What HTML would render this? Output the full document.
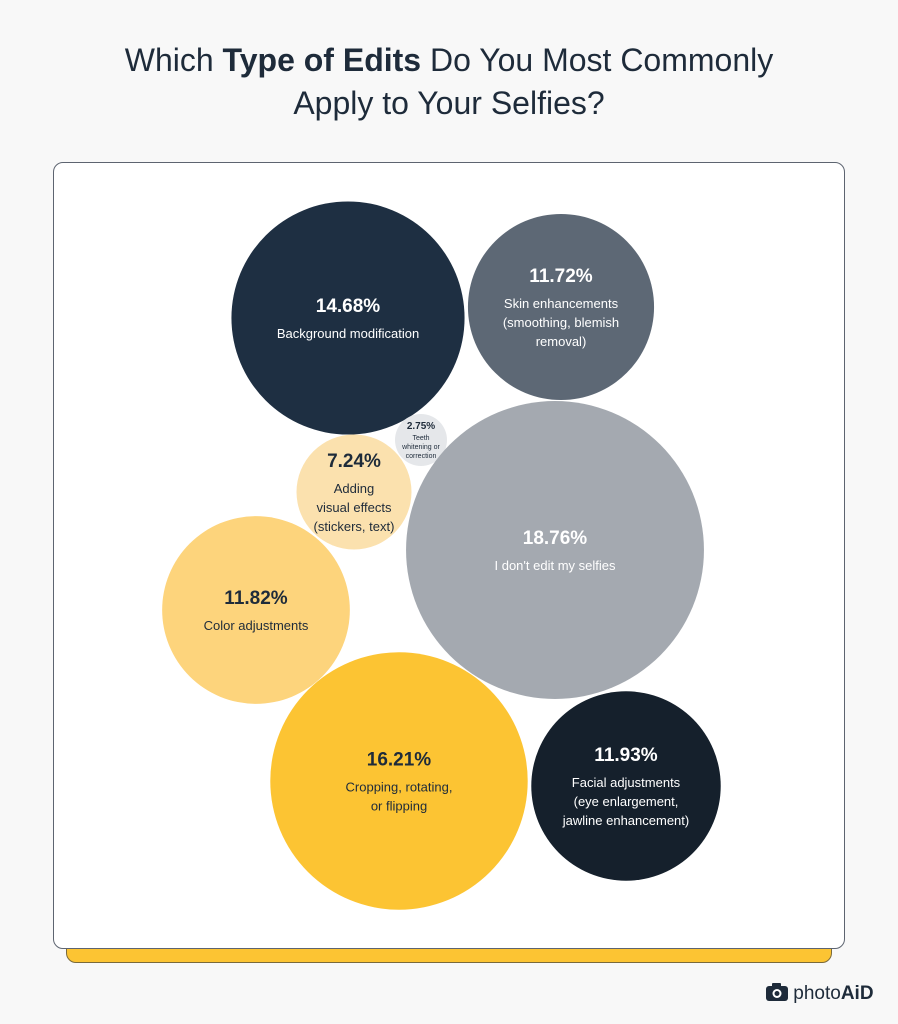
<!DOCTYPE html>
<html><head><meta charset="utf-8"><style>
body{margin:0;width:898px;height:1024px;background:#f8f8f8;font-family:"Liberation Sans",sans-serif;position:relative;overflow:hidden}
h1{position:absolute;top:39px;left:0;width:898px;margin:0;text-align:center;font-weight:normal;font-size:32px;line-height:43px;color:#1e2b3a}
#bar{position:absolute;left:66px;top:930px;width:766px;height:33px;background:#fcc433;border:1px solid #7a6a3a;border-radius:0 0 10px 10px;box-sizing:border-box}
#card{position:absolute;left:53px;top:162px;width:792px;height:787px;background:#fff;border:1.5px solid #5d6470;border-radius:10px;box-sizing:border-box}
svg{position:absolute;left:0;top:0}
#logo{position:absolute;left:766px;top:983px;font-size:19px;color:#1e2b3a}
</style></head><body>
<h1>Which <b>Type of Edits</b> Do You Most Commonly<br>Apply to Your Selfies?</h1>
<div id="bar"></div>
<div id="card"></div>
<svg id="chart" width="898" height="1024"></svg>
<div id="logo"><svg width="22" height="18" style="position:static;vertical-align:-2px" viewBox="0 0 22 18"><rect x="0" y="3" width="22" height="15" rx="3" fill="#1e2b3a"/><rect x="6" y="0" width="9" height="5" rx="1" fill="#1e2b3a"/><circle cx="11" cy="10.5" r="4.5" fill="#fff"/><circle cx="11" cy="10.5" r="2.5" fill="#1e2b3a"/></svg> photo<b>AiD</b></div>
<script>
const labels=[["Background modification"],["Skin enhancements","(smoothing, blemish","removal)"],["Teeth","whitening or","correction"],["Adding","visual effects","(stickers, text)"],["I don't edit my selfies"],["Color adjustments"],["Cropping, rotating,","or flipping"],["Facial adjustments","(eye enlargement,","jawline enhancement)"]];
const values=[14.68,11.72,2.75,7.24,18.76,11.82,16.21,11.93];
const colors=["#1e2f42","#5d6875","#e5e7ea","#fbe1ae","#a4a9b0","#fdd47c","#fcc433","#15202c"];
const textColors=["#fff","#fff","#1e2b3a","#1e2b3a","#fff","#1e2b3a","#1e2b3a","#fff"];
const layoutX=[348,561,421,354,555,256,399,626];
const layoutY=[318,307,440,492,550,610,781,786];
const rScale=v=>Math.max(v*7.94,26);
const ns="http://www.w3.org/2000/svg",svg=document.getElementById("chart");
values.forEach((v,i)=>{
  const g=document.createElementNS(ns,"g");
  
  
  const c=document.createElementNS(ns,"circle");
  
  
  c.setAttribute("cx",layoutX[i]);c.setAttribute("cy",layoutY[i]);c.setAttribute("r",rScale(v));c.setAttribute("fill",colors[i]);
  g.appendChild(c);
  const small=v<5, fs=small?7:13, ps=small?10:19, lh=small?9:19;
  const lines=labels[i].length;
  const top=layoutY[i]-((lines)*lh+ps)/2+ps*0.85;
  const t=document.createElementNS(ns,"text");
  
  
  t.setAttribute("x",layoutX[i]);t.setAttribute("y",top-(small?1:3));t.setAttribute("text-anchor","middle");
  t.setAttribute("font-size",ps);t.setAttribute("font-weight","bold");t.setAttribute("fill",textColors[i]);
  t.setAttribute("font-family","Liberation Sans, sans-serif");
  t.textContent=v.toFixed(2)+"%";g.appendChild(t);
  labels[i].forEach((l,j)=>{
    const s=document.createElementNS(ns,"text");
    
    
    s.setAttribute("x",layoutX[i]);s.setAttribute("y",top+(j+1)*lh+(small?1:4));s.setAttribute("text-anchor","middle");
    s.setAttribute("font-size",fs);s.setAttribute("fill",textColors[i]);
    s.setAttribute("font-family","Liberation Sans, sans-serif");
    s.textContent=l;g.appendChild(s);
  });
  svg.appendChild(g);
});
</script>
</body></html>
